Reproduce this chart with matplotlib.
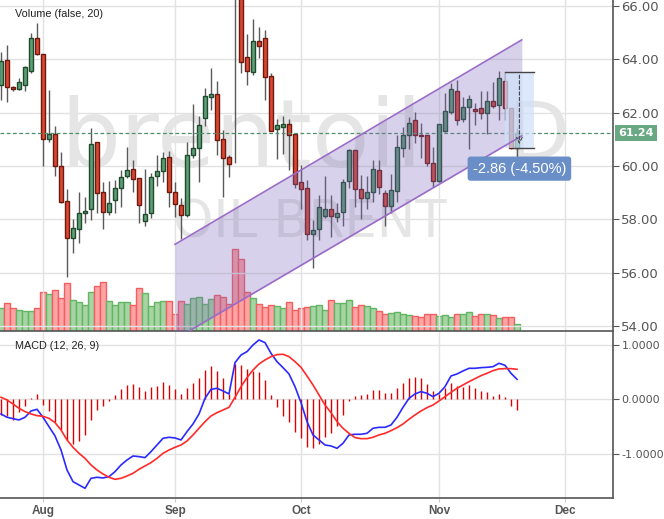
import numpy as np
import matplotlib
matplotlib.use("Agg")
import matplotlib.pyplot as plt

plt.rcParams['axes.unicode_minus'] = False

# trading days from Jul 23 2019, index 0 = Aug 1
start_day = '2019-07-23'
n_days = 87
month_starts = ['2019-08-01', '2019-09-01', '2019-10-01', '2019-11-01', '2019-12-01']
month_labels = ['Aug', 'Sep', 'Oct', 'Nov', 'Dec']

opens = [63.03, 63.98, 62.95, 62.90, 63.03, 63.58, 64.79, 64.20, 61.00, 61.19,
         59.98, 58.68, 57.28, 57.63, 58.23, 58.38, 60.89, 59.01, 58.26, 58.71,
         59.16, 59.61, 59.88, 59.54, 57.93, 58.23, 59.61, 59.80, 60.33, 59.01,
         58.53, 58.15, 60.40, 60.66, 61.79, 62.58, 62.69, 61.00, 60.33, 70.50,
         68.40, 64.08, 63.54, 64.68, 64.79, 63.38, 61.40, 61.48, 61.56, 61.20,
         59.38, 59.16, 57.44, 57.64, 58.12, 58.40, 58.07, 58.29, 59.45, 60.60,
         59.13, 58.78, 59.04, 59.84, 59.00, 58.50, 59.06, 60.66, 61.15, 61.71,
         61.16, 61.15, 60.10, 59.44, 61.32, 62.01, 62.82, 61.75, 62.23, 62.13,
         62.16, 61.98, 62.45, 62.28, 63.20, 62.16, 60.69]
highs = [64.26, 64.54, 63.00, 63.29, 63.75, 65.00, 65.36, 64.20, 62.85, 61.50,
         60.53, 59.14, 58.00, 59.01, 58.83, 61.41, 60.89, 59.39, 59.44, 59.48,
         59.84, 60.71, 60.23, 59.54, 59.89, 59.73, 60.40, 60.54, 60.56, 59.38,
         58.79, 60.89, 62.33, 61.88, 62.91, 63.66, 63.19, 61.35, 60.41, 71.90,
         69.00, 64.95, 65.51, 65.20, 65.10, 63.48, 61.75, 61.88, 61.76, 61.25,
         60.04, 59.48, 57.98, 58.91, 59.62, 58.91, 58.60, 59.50, 60.64, 60.60,
         59.66, 59.62, 60.22, 60.22, 59.09, 59.68, 61.16, 61.48, 61.85, 62.03,
         61.62, 61.15, 60.72, 61.56, 62.72, 63.12, 63.22, 62.60, 62.66, 62.35,
         62.81, 62.81, 63.14, 63.56, 63.51, 62.16, 61.42]
lows = [62.48, 62.41, 62.83, 62.85, 62.83, 63.50, 64.16, 59.98, 60.91, 59.63,
        58.62, 55.85, 56.73, 57.10, 57.85, 57.98, 58.23, 57.65, 58.16, 58.23,
        58.45, 59.54, 59.04, 57.85, 57.76, 58.03, 59.23, 59.38, 58.45, 58.08,
        57.25, 58.10, 60.30, 59.38, 61.50, 62.10, 60.41, 58.85, 59.58, 60.10,
        63.50, 63.04, 63.41, 64.04, 62.48, 61.30, 60.26, 60.44, 59.83, 59.19,
        58.39, 57.23, 56.17, 57.23, 58.04, 57.35, 57.90, 57.76, 59.19, 58.47,
        58.00, 58.38, 58.66, 58.95, 57.75, 58.25, 58.66, 60.35, 60.62, 60.88,
        60.30, 60.00, 59.20, 59.41, 61.28, 61.95, 61.54, 61.66, 60.64, 61.54,
        61.75, 61.20, 62.16, 61.71, 61.71, 60.64, 60.29]
closes = [63.94, 62.95, 62.90, 63.14, 63.71, 64.79, 64.20, 61.00, 61.19, 59.98,
          58.64, 57.28, 57.66, 58.23, 58.30, 60.81, 58.98, 58.26, 58.60, 59.16,
          59.58, 59.84, 59.50, 58.53, 58.19, 59.58, 59.80, 60.29, 59.01, 58.56,
          58.15, 60.40, 60.66, 61.54, 62.63, 62.69, 60.96, 60.29, 60.06, 69.00,
          63.91, 63.58, 64.68, 64.51, 63.35, 61.33, 61.54, 61.58, 61.15, 59.31,
          59.15, 57.43, 57.59, 58.45, 58.40, 58.12, 58.22, 59.39, 60.60, 59.15,
          58.78, 59.01, 59.88, 59.22, 58.50, 59.11, 60.70, 61.15, 61.60, 61.16,
          61.13, 60.10, 59.44, 61.56, 62.05, 62.88, 61.71, 62.23, 62.53, 62.08,
          61.98, 62.45, 62.26, 63.29, 62.16, 60.66, 61.24]
volume = [23, 28, 23, 21, 20, 20, 23, 39, 37, 41,
          33, 48, 31, 29, 26, 39, 45, 49, 30, 26,
          29, 29, 26, 43, 38, 25, 29, 30, 30, 17,
          30, 27, 33, 34, 27, 32, 36, 34, 27, 82,
          72, 39, 33, 27, 24, 26, 25, 23, 29, 21,
          23, 24, 25, 26, 21, 31, 28, 28, 31, 24,
          26, 25, 23, 20, 17, 18, 19, 17, 16, 15,
          14, 17, 17, 15, 16, 14, 17, 17, 19, 15,
          17, 17, 16, 13, 14, 14, 7]

macd = [-0.269, -0.330, -0.355, -0.379, -0.330, -0.214, -0.183, -0.330, -0.502, -0.673,
        -0.930, -1.297, -1.511, -1.572, -1.633, -1.450, -1.431, -1.443, -1.419, -1.327,
        -1.205, -1.113, -1.040, -1.052, -1.070, -0.960, -0.838, -0.716, -0.697, -0.709,
        -0.746, -0.593, -0.453, -0.269, 0.018, 0.183, 0.202, 0.153, 0.098, 0.673,
        0.813, 0.875, 0.997, 1.089, 1.040, 0.844, 0.691, 0.581, 0.465, 0.232,
        -0.061, -0.410, -0.654, -0.746, -0.838, -0.856, -0.899, -0.807, -0.654, -0.642,
        -0.642, -0.624, -0.532, -0.514, -0.514, -0.471, -0.330, -0.147, 0.018, 0.098,
        0.141, 0.110, 0.049, 0.110, 0.232, 0.428, 0.465, 0.520, 0.569, 0.569,
        0.581, 0.587, 0.599, 0.661, 0.624, 0.477, 0.367]
signal = [0.037, -0.012, -0.086, -0.165, -0.226, -0.269, -0.300, -0.312, -0.349, -0.428,
          -0.563, -0.746, -0.881, -0.991, -1.083, -1.205, -1.297, -1.370, -1.431, -1.468,
          -1.450, -1.407, -1.358, -1.284, -1.223, -1.162, -1.083, -0.991, -0.930, -0.881,
          -0.838, -0.765, -0.654, -0.532, -0.410, -0.306, -0.245, -0.196, -0.147, 0.037,
          0.232, 0.398, 0.538, 0.648, 0.722, 0.783, 0.820, 0.826, 0.783, 0.691,
          0.587, 0.428, 0.263, 0.080, -0.104, -0.245, -0.410, -0.532, -0.624, -0.703,
          -0.722, -0.722, -0.697, -0.654, -0.624, -0.575, -0.520, -0.453, -0.367, -0.287,
          -0.214, -0.153, -0.104, -0.031, 0.049, 0.128, 0.202, 0.263, 0.324, 0.379,
          0.434, 0.477, 0.526, 0.557, 0.563, 0.563, 0.550]
hist = [-0.287, -0.306, -0.379, -0.226, -0.122, 0.031, 0.098, -0.104, -0.214, -0.410,
        -0.563, -0.746, -0.820, -0.765, -0.654, -0.379, -0.196, -0.122, -0.031, 0.080,
        0.183, 0.263, 0.281, 0.232, 0.153, 0.220, 0.245, 0.312, 0.263, 0.183,
        0.098, 0.202, 0.306, 0.385, 0.538, 0.612, 0.520, 0.385, 0.098, 0.648,
        0.636, 0.557, 0.526, 0.495, 0.355, 0.080, -0.135, -0.300, -0.410, -0.593,
        -0.703, -0.869, -0.899, -0.820, -0.697, -0.612, -0.489, -0.287, -0.031, 0.061,
        0.080, 0.098, 0.171, 0.171, 0.122, 0.122, 0.202, 0.306, 0.385, 0.404,
        0.385, 0.281, 0.153, 0.098, 0.202, 0.294, 0.245, 0.232, 0.263, 0.202,
        0.153, 0.141, 0.061, 0.098, 0.049, -0.122, -0.196]

# drawings: trend channel and price range measure
channel_x = [22, 79.8]
channel_upper = [57.06, 64.73]
channel_lower = [53.50, 61.13]
measure_x = [77.0, 81.8]
measure_top, measure_bottom = 63.51, 60.66
measure_text = '-2.86 (-4.50%)'
last_price = 61.24

first = np.datetime64('2019-08-01')
day0 = np.busday_count(first, np.datetime64(start_day))
x = np.arange(n_days) + day0
month_pos = np.busday_count(first, np.array(month_starts, dtype='datetime64[D]'))

o = np.array(opens); h = np.array(highs); l = np.array(lows); c = np.array(closes)
up = c >= o

fig = plt.figure(figsize=(6.64, 5.19), dpi=100)
W, H = 664.0, 519.0
ax = fig.add_axes([0, (H - 331) / H, 613 / W, 331 / H])
axv = ax.twinx()
ax.set_zorder(axv.get_zorder() + 1)
ax.patch.set_visible(False)
axv.patch.set_facecolor('white')
ax2 = fig.add_axes([0, (H - 498) / H, 613 / W, 166 / H])

# volume
vcol = np.where(up, '#a6d5a3', '#ffa4a4')
vedge = np.where(up, '#62b562', '#f06060')
axv.bar(x, volume, width=1.0, color=vcol, edgecolor=vedge, linewidth=1)
axv.set_ylim(0, 331)
axv.set_yticks([])
for s in axv.spines.values():
    s.set_visible(False)

# grid
for p in range(54, 67, 2):
    ax.axhline(p, color='#e2e2e2', lw=1, zorder=0)
for m in month_pos:
    ax.axvline(m, color='#e2e2e2', lw=1, zorder=0)
    ax2.axvline(m, color='#e2e2e2', lw=1, zorder=0)
for v in [-1, 0, 1]:
    ax2.axhline(v, color='#e2e2e2', lw=1, zorder=0)

# watermark
ax.text(0.098, 0.495, 'brentoil', transform=ax.transAxes, ha='left', va='baseline',
        fontsize=68, color='#e5e5e5', zorder=0.5)
ax.text(0.827, 0.52, 'D', transform=ax.transAxes, ha='left', va='baseline',
        fontsize=58, color='#e5e5e5', zorder=0.5)
ax.text(0.505, 0.281, 'OIL BRENT', transform=ax.transAxes, ha='center', va='baseline',
        fontsize=37, color='#e5e5e5', zorder=0.5)

# candles
ax.vlines(x, l, h, color='#5a5a5a', lw=1, zorder=2)
body_col = np.where(up, '#5e9e76', '#db4731')
body_edge = np.where(up, '#1f4a2c', '#6a1a10')
ax.bar(x, np.maximum(np.abs(c - o), 0.02), bottom=np.minimum(o, c), width=0.72,
       color=body_col, edgecolor=body_edge, linewidth=1, zorder=3)

# last price line
ax.axhline(last_price, color='#4f8f6a', lw=0.9, ls=(0, (3, 2)), zorder=4)
ax.annotate(f'{last_price:.2f}', xy=(1, last_price), xycoords=('axes fraction', 'data'),
            xytext=(4, 0), textcoords='offset points', ha='left', va='center',
            fontsize=8, fontweight='bold', color='white', zorder=10,
            bbox=dict(boxstyle='square,pad=0.3', fc='#68a882', ec='none'),
            annotation_clip=False)

# channel
ax.fill_between(channel_x, channel_lower, channel_upper, color='#7e68bd', alpha=0.3,
                lw=0, zorder=5)
ax.plot(channel_x, channel_upper, color='#9a6cc8', lw=1.2, zorder=6)
ax.plot(channel_x, channel_lower, color='#9a6cc8', lw=1.2, zorder=6)

# price range measure
ax.fill_between(measure_x, measure_bottom, measure_top, color='#cfe1fa', alpha=0.7,
                lw=0, zorder=5)
ax.plot(measure_x, [measure_top, measure_top], color='#444', lw=1, zorder=7)
ax.plot([78.4, measure_x[1]], [measure_bottom, measure_bottom], color='#444', lw=1, zorder=7)
mid = (measure_x[0] + measure_x[1]) / 2
ax.annotate('', xy=(mid, measure_bottom + 0.05), xytext=(mid, measure_top),
            arrowprops=dict(arrowstyle='->', linestyle=(0, (3, 2)), color='#444', lw=0.8),
            zorder=7)
ax.text(mid, 59.90, measure_text, ha='center', va='center', fontsize=10.5,
        family='Liberation Sans', color='white', zorder=8,
        bbox=dict(boxstyle='round,pad=0.35,rounding_size=0.2', fc='#6a8ec8', ec='none'))

ax.set_xlim(-7.17, 95.0)
ax.set_ylim(53.81, 66.225)
ax.yaxis.tick_right()
ax.set_yticks(range(54, 67, 2))
ax.set_yticklabels([f'{p:.2f}' for p in range(54, 67, 2)])
ax.tick_params(axis='y', direction='out', length=4, pad=2, color='#555',
               labelcolor='#555', labelsize=9.5)
ax.set_xticks([])
for s in ['top', 'left']:
    ax.spines[s].set_visible(False)
for s in ['right', 'bottom']:
    ax.spines[s].set_color('#555')
    ax.spines[s].set_linewidth(1.2)

# MACD panel
ax2.vlines(x, 0, hist, color='#dd0000', lw=1, zorder=2)
ax2.plot(x, macd, color='#2a2aff', lw=1.2, zorder=3)
ax2.plot(x, signal, color='#ff2a2a', lw=1.2, zorder=3)
ax2.set_xlim(-7.17, 95.0)
ax2.set_ylim(-1.811, 1.235)
ax2.yaxis.tick_right()
ax2.set_yticks([-1, 0, 1])
ax2.set_yticklabels(['-1.0000', '0.0000', '1.0000'])
ax2.tick_params(axis='y', direction='out', length=4, pad=2, color='#555',
                labelcolor='#555', labelsize=8)
ax2.set_xticks(month_pos)
ax2.set_xticklabels(month_labels, fontweight='bold', family='Liberation Sans')
ax2.tick_params(axis='x', direction='out', length=3, pad=2, color='#ccc',
                labelcolor='#555', labelsize=8.5)
for s in ['top', 'left']:
    ax2.spines[s].set_visible(False)
for s in ['right', 'bottom']:
    ax2.spines[s].set_color('#555')
    ax2.spines[s].set_linewidth(1.2)

fig.text(15 / W, 1 - 14 / H, 'Volume (false, 20)', ha='left', va='center',
         fontsize=7.8, family='Liberation Sans', color='#222')
fig.text(15 / W, 1 - 346 / H, 'MACD (12, 26, 9)', ha='left', va='center',
         fontsize=7.8, family='Liberation Sans', color='#222')

fig.savefig('out.png', dpi=100)
